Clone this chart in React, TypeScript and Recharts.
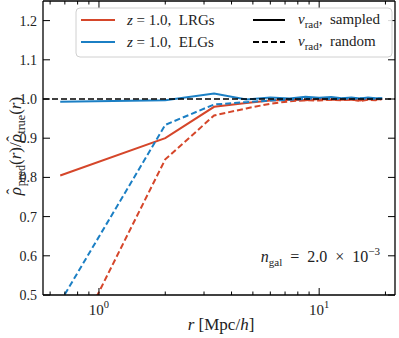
import React from 'react';
import { LineChart, Line, XAxis, YAxis, ReferenceLine } from 'recharts';

const rBins = [0.667, 2.0, 3.333, 4.667, 6.0, 7.333, 8.667, 10.0, 11.333, 12.667, 14.0, 15.333, 16.667, 18.0, 19.333];
const lrgSampled = [0.805, 0.9, 0.98, 0.99, 0.996, 0.998, 0.997, 1.0, 0.998, 0.999, 0.998, 0.996, 1.0, 0.999, 1.0];
const lrgRandom = [0.31, 0.846, 0.958, 0.976, 0.988, 0.994, 0.997, 0.996, 0.998, 0.997, 0.999, 0.995, 0.998, 0.997, 1.0];
const elgSampled = [0.993, 0.997, 1.014, 0.999, 1.004, 1.001, 1.006, 1.003, 1.005, 1.002, 1.004, 1.001, 1.004, 1.002, 1.002];
const elgRandom = [0.482, 0.934, 0.986, 0.992, 0.996, 0.998, 1.0, 1.002, 1.0, 1.001, 1.0, 1.002, 1.0, 1.001, 1.001];

const yTicks = [0.5, 0.6, 0.7, 0.8, 0.9, 1.0, 1.1, 1.2];
const xMajorTicks = [1, 10];
const xMajorExp = ['0', '1'];
const xMinorTicks = [0.6, 0.7, 0.8, 0.9, 2, 3, 4, 5, 6, 7, 8, 9, 20];
const xAllTicks = [...xMinorTicks, ...xMajorTicks].sort((a, b) => a - b);

const X_DOMAIN: [number, number] = [0.557, 22.1];
const Y_DOMAIN: [number, number] = [0.5, 1.25];
const PLOT_L = 43;
const PLOT_T = 1;
const PLOT_W = 352;
const PLOT_H = 294;
const xPos = (v: number) =>
  PLOT_L + (Math.log10(v / X_DOMAIN[0]) / Math.log10(X_DOMAIN[1] / X_DOMAIN[0])) * PLOT_W;
const yPos = (v: number) => PLOT_T + ((Y_DOMAIN[1] - v) / (Y_DOMAIN[1] - Y_DOMAIN[0])) * PLOT_H;

const RED = '#d5462a';
const BLUE = '#1b7fc4';
const FONT = 'Liberation Serif, DejaVu Serif, serif';
const S = '\u00a0';

const data = rBins.map((r, i) => ({
  r,
  lrgS: lrgSampled[i],
  lrgR: lrgRandom[i],
  elgS: elgSampled[i],
  elgR: elgRandom[i],
}));

const XTickBottom = (props: any) => {
  const { x, y, payload } = props;
  const v = payload.value;
  const mi = xMajorTicks.indexOf(v);
  const len = mi >= 0 ? 7 : 3.5;
  return (
    <g>
      <line x1={x} y1={y} x2={x} y2={y - len} stroke="#000" strokeWidth={1} />
      {mi >= 0 && (
        <text x={x} y={y + 20} textAnchor="middle" fontFamily={FONT} fontSize={15} fill="#222">
          10<tspan dy={-7} fontSize={10.5}>{xMajorExp[mi]}</tspan>
        </text>
      )}
    </g>
  );
};

const YTickLeft = (props: any) => {
  const { x, y, payload } = props;
  return (
    <g>
      <line x1={x} y1={y} x2={x + 7} y2={y} stroke="#000" strokeWidth={1} />
      <text x={x - 6} y={y + 5} textAnchor="end" fontFamily={FONT} fontSize={14} fill="#222">
        {payload.value.toFixed(1)}
      </text>
    </g>
  );
};

const axisLine = { stroke: '#000', strokeWidth: 1.3 };

export default function App() {
  const right = PLOT_L + PLOT_W;
  return (
    <div style={{ position: 'absolute', left: 0, top: 0, width: 399, height: 338, background: '#fff', fontFamily: FONT }}>
      <LineChart width={399} height={338} data={data} margin={{ top: 1, right: 4, left: 0, bottom: 0 }}>
        <XAxis
          dataKey="r"
          type="number"
          scale="log"
          domain={X_DOMAIN}
          allowDataOverflow
          ticks={xAllTicks}
          interval={0}
          tickLine={false}
          tickSize={0}
          tickMargin={0}
          height={43}
          axisLine={axisLine}
          tick={(p: any) => <XTickBottom {...p} />}
        />
        <YAxis
          type="number"
          domain={Y_DOMAIN}
          allowDataOverflow
          ticks={yTicks}
          interval={0}
          tickLine={false}
          tickSize={0}
          tickMargin={0}
          width={43}
          axisLine={axisLine}
          tick={(p: any) => <YTickLeft {...p} />}
        />
        <Line dataKey="lrgS" type="linear" stroke={RED} strokeWidth={2} dot={false} isAnimationActive={false} />
        <Line dataKey="lrgR" type="linear" stroke={RED} strokeWidth={2} strokeDasharray="6 3" dot={false} isAnimationActive={false} />
        <Line dataKey="elgS" type="linear" stroke={BLUE} strokeWidth={2} dot={false} isAnimationActive={false} />
        <Line dataKey="elgR" type="linear" stroke={BLUE} strokeWidth={2} strokeDasharray="6 3" dot={false} isAnimationActive={false} />
        <ReferenceLine y={1} stroke="#000" strokeWidth={1.6} strokeDasharray="6 3" />
      </LineChart>
      <svg width={399} height={338} style={{ position: 'absolute', left: 0, top: 0, pointerEvents: 'none' }}>
        {/* top / right frame with inward ticks */}
        <g stroke="#000">
          <line x1={PLOT_L} y1={PLOT_T} x2={right} y2={PLOT_T} strokeWidth={1.3} />
          <line x1={right} y1={PLOT_T} x2={right} y2={PLOT_T + PLOT_H} strokeWidth={1.3} />
          {xAllTicks.map((t) => (
            <line
              key={'tt' + t}
              x1={xPos(t)}
              y1={PLOT_T}
              x2={xPos(t)}
              y2={PLOT_T + (xMajorTicks.includes(t) ? 7 : 3.5)}
              strokeWidth={1}
            />
          ))}
          {yTicks.map((t) => (
            <line key={'rt' + t} x1={right} y1={yPos(t)} x2={right - 7} y2={yPos(t)} strokeWidth={1} />
          ))}
        </g>
        <g fontFamily={FONT} fill="#222">
          {/* legend */}
          <rect x={76} y={8} width={316} height={49} rx={4} fill="#fff" fillOpacity={0.85} stroke="#d0d0d0" strokeWidth={1} />
          <line x1={81} y1={20} x2={115} y2={20} stroke={RED} strokeWidth={2} />
          <line x1={81} y1={42} x2={115} y2={42} stroke={BLUE} strokeWidth={2} />
          <line x1={253} y1={20} x2={285} y2={20} stroke="#000" strokeWidth={2} />
          <line x1={253} y1={42} x2={285} y2={42} stroke="#000" strokeWidth={2} strokeDasharray="6 3" />
          <text x={127} y={25} fontSize={15}>
            <tspan fontStyle="italic">z</tspan>{`${S}=${S}1.0,${S}${S}LRGs`}
          </text>
          <text x={127} y={47} fontSize={15}>
            <tspan fontStyle="italic">z</tspan>{`${S}=${S}1.0,${S}${S}ELGs`}
          </text>
          <text x={298} y={24} fontSize={15}>
            <tspan fontStyle="italic">v</tspan>
            <tspan dy={4} fontSize={11}>rad</tspan>
            <tspan dy={-4}>{`,${S}${S}sampled`}</tspan>
          </text>
          <text x={298} y={46} fontSize={15}>
            <tspan fontStyle="italic">v</tspan>
            <tspan dy={4} fontSize={11}>rad</tspan>
            <tspan dy={-4}>{`,${S}${S}random`}</tspan>
          </text>
          {/* annotation */}
          <text x={380} y={262} fontSize={16} textAnchor="end">
            <tspan fontStyle="italic">n</tspan>
            <tspan dy={4} fontSize={11}>gal</tspan>
            <tspan dy={-4}>{`${S}${S}=${S}${S}2.0${S}${S}×${S}${S}10`}</tspan>
            <tspan dy={-7} fontSize={11}>−3</tspan>
          </text>
          {/* x label */}
          <text x={221} y={330} fontSize={17} textAnchor="middle">
            <tspan fontStyle="italic">r</tspan>{`${S}[Mpc/`}<tspan fontStyle="italic">h</tspan>]
          </text>
          {/* y label */}
          <text transform="translate(21,146) rotate(-90)" fontSize={17} textAnchor="middle">
            <tspan fontStyle="italic">ρ</tspan>
            <tspan dx={-7.5} dy={-3}>ˆ</tspan>
            <tspan dx={2.5} dy={7} fontSize={12}>pred</tspan>
            <tspan dy={-4}>(</tspan>
            <tspan fontStyle="italic">r</tspan>
            <tspan>)/</tspan>
            <tspan fontStyle="italic">ρ</tspan>
            <tspan dx={-7.5} dy={-3}>ˆ</tspan>
            <tspan dx={2.5} dy={7} fontSize={12}>true</tspan>
            <tspan dy={-4}>(</tspan>
            <tspan fontStyle="italic">r</tspan>
            <tspan>)</tspan>
          </text>
        </g>
      </svg>
    </div>
  );
}
